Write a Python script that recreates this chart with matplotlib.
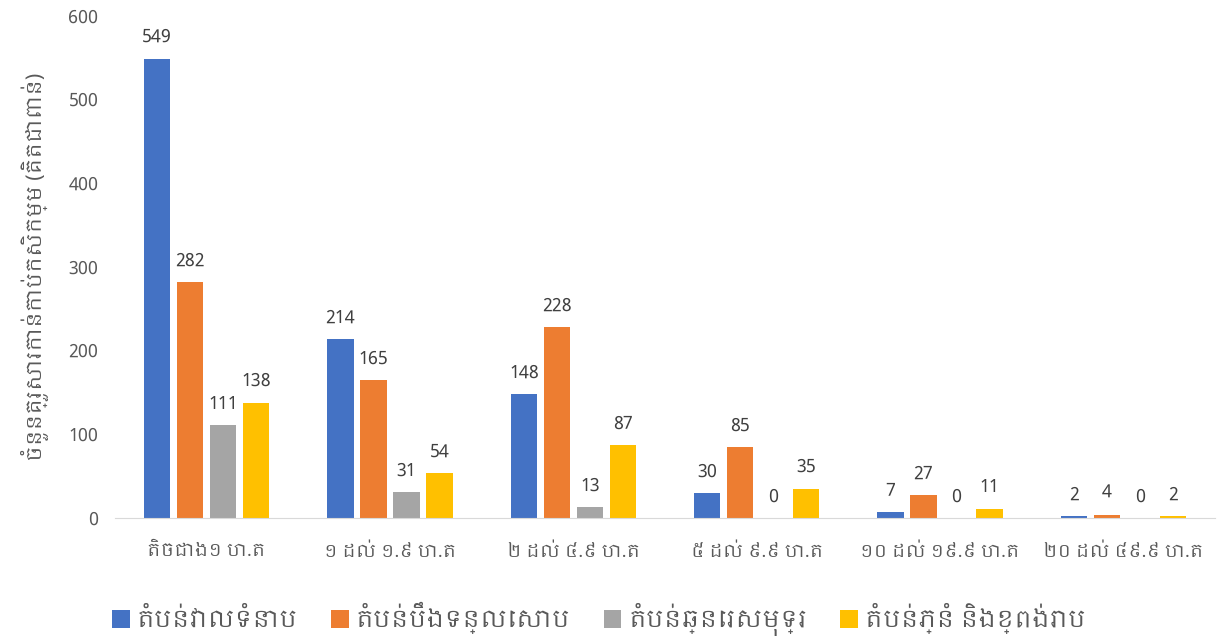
import matplotlib
matplotlib.use('Agg')
import matplotlib.pyplot as plt
from matplotlib import font_manager
import numpy as np

categories = ['តិចជាង១ ហ.ត', '១ ដល់ ១.៩ ហ.ត', '២ ដល់ ៤.៩ ហ.ត',
              '៥ ដល់ ៩.៩ ហ.ត', '១០ ដល់ ១៩.៩ ហ.ត', '២០ ដល់ ៤៩.៩ ហ.ត']
series_names = ['តំបន់វាលទំនាប', 'តំបន់បឹងទន្លេសាប', 'តំបន់ឆ្នេរសមុទ្រ', 'តំបន់ភ្នំ និងខ្ពង់រាប']
plain = [549, 214, 148, 30, 7, 2]
tonle_sap = [282, 165, 228, 85, 27, 4]
coastal = [111, 31, 13, 0, 0, 0]
mountain = [138, 54, 87, 35, 11, 2]
ylabel = 'ចំនួនគ្រួសារកាន់កាប់កសិកម្ម (គិតជាពាន់)'

colors = ['#4472C4', '#ED7D31', '#A5A5A5', '#FFC000']

# use a Khmer-capable font if one is installed
names = sorted({f.name for f in font_manager.fontManager.ttflist})
khmer = [n for n in names if 'khmer' in n.lower()]
plt.rcParams['font.family'] = khmer + ['Noto Sans', 'DejaVu Sans']

fig = plt.figure(figsize=(12.24, 6.44), dpi=100)
ax = fig.add_axes([115/1224, 1 - 518/644, 1100/1224, 502/644])

x = np.arange(len(categories))
w = 0.142
offsets = [-0.27, -0.09, 0.09, 0.27]
for vals, name, c, off in zip([plain, tonle_sap, coastal, mountain], series_names, colors, offsets):
    bars = ax.bar(x + off, vals, w, color=c, label=name)
    for b, v in zip(bars, vals):
        ax.annotate(str(v), (b.get_x() + b.get_width() / 2, v), xytext=(0, 9),
                    textcoords='offset points', ha='center', va='bottom',
                    fontsize=13, color='#404040')

ax.set_xlim(-0.5, 5.5)
ax.set_ylim(0, 600)
ax.set_yticks(range(0, 601, 100))
ax.set_xticks(x)
ax.set_xticklabels(categories)
ax.tick_params(axis='y', length=0, labelsize=13, colors='#595959', pad=12)
ax.tick_params(axis='x', length=0, labelsize=13, colors='#595959', pad=18)
for s in ['top', 'right', 'left']:
    ax.spines[s].set_visible(False)
ax.spines['bottom'].set_color('#D9D9D9')
ax.set_ylabel(ylabel, fontsize=15, color='#595959', labelpad=14)

ax.legend(loc='upper center', bbox_to_anchor=(0.44, -0.125), ncol=4, frameon=False,
          fontsize=17, handlelength=0.75, handleheight=0.75, columnspacing=1.4,
          handletextpad=0.3, labelcolor='#595959')

fig.savefig('out.png', dpi=100)
